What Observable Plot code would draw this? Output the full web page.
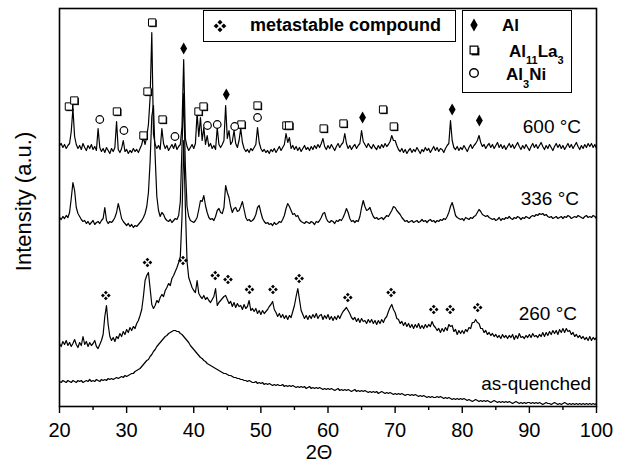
<!DOCTYPE html>
<html>
<head>
<meta charset="utf-8">
<script src="https://cdn.jsdelivr.net/npm/d3@7"></script>
<script src="https://cdn.jsdelivr.net/npm/@observablehq/plot@0.6"></script>
<style>
  html, body { margin: 0; padding: 0; background: #fff; }
  #chart { width: 625px; height: 467px; }
</style>
</head>
<body>
<div id="chart"></div>
<script>
// 2θ sampling grid: 20° to 100° in 0.25° steps
const twoTheta = d3.range(0, 321).map(i => 20 + i * 0.25);

// Intensities (a.u.), one value per grid step
const i600 = [
  261,263,259,262, 258,261,263,275, 298,270,262,258, 261,257,263,259, 256,261,258,262,
  257,260,256,278, 259,255,258,254, 259,256,253,258, 255,259,285,257, 254,258,266,255,
  257,253,256,254, 258,255,257,254, 258,262,269,262, 270,282,309,374, 272,262,258,261,
  257,278,263,258, 261,256,259,262, 258,263,257,260, 262,280,347,268, 260,256,259,262,
  258,263,293,270, 289,266,279,262, 271,260,263,258, 261,257,279,262, 259,262,266,301,
  268,276,262,265, 276,263,259,266, 278,264,258,255, 257,254,258,256, 259,262,279,264,
  258,255,257,254, 256,253,257,255, 258,254,257,260, 256,259,262,273, 264,269,258,261,
  257,260,256,259, 255,258,261,257, 259,256,260,257, 261,258,262,259, 263,268,260,257,
  261,258,262,259, 256,260,263,259, 262,264,273,263, 258,261,257,260, 262,258,261,263,
  276,265,262,259, 263,260,258,262, 259,257,261,258, 262,259,263,260, 262,265,271,266,
  266,261,257,255, 258,254,257,253, 256,258,254,257, 255,259,256,253, 257,255,259,256,
  258,254,257,260, 256,259,255,258, 257,254,258,261, 263,286,266,259, 257,260,256,259,
  257,261,258,255, 259,262,258,261, 263,266,271,264, 260,262,258,261, 263,259,262,258,
  261,264,259,262, 258,261,257,260, 263,259,262,258, 261,264,260,257, 261,258,262,259,
  256,260,263,259, 262,258,261,264, 260,257,261,258, 262,259,256,260, 263,259,262,258,
  261,257,260,263, 259,262,258,261, 264,260,257,261, 258,262,259,263, 260,263,259,262,
  258
];
const i336 = [
  189,187,190,188, 191,189,194,208, 224,216,199,193, 190,187,185,186, 183,185,182,184,
  186,182,184,185, 183,186,188,199, 186,183,185,184, 186,189,194,203, 196,188,185,183,
  181,183,180,182, 179,181,180,182, 184,186,189,193, 200,214,245,290, 301,250,210,196,
  190,194,192,188, 186,185,187,184, 186,188,187,191, 205,260,313,240, 200,190,186,185,
  184,186,189,197, 206,205,211,201, 194,189,187,188, 186,190,196,198, 194,193,199,221,
  214,209,200,194, 198,199,195,196, 200,205,197,189, 186,187,185,186, 188,192,199,201,
  194,188,185,183, 184,182,183,181, 184,182,183,185, 184,187,191,198, 203,200,196,192,
  193,190,191,187, 185,184,183,185, 184,183,185,184, 182,185,184,186, 189,193,194,188,
  185,184,186,185, 183,186,185,187, 186,189,193,198, 194,188,185,186, 184,186,185,190,
  199,206,200,196, 197,199,194,190, 188,189,187,188, 189,187,189,191, 190,193,196,200,
  199,196,194,192, 189,187,185,186, 184,185,186,184, 185,186,184,185, 187,185,186,184,
  186,187,185,186, 184,186,185,187, 186,188,187,190, 194,200,204,198, 191,189,188,187,
  188,186,189,188, 187,189,188,190, 191,194,197,195, 192,191,190,191, 189,188,187,188,
  186,187,189,186, 188,187,189,188, 190,188,187,189, 188,190,189,187, 189,188,190,189,
  188,190,191,190, 192,191,193,192, 193,191,192,190, 189,190,188,189, 190,188,189,190,
  188,190,189,191, 190,188,189,190, 189,191,190,189, 188,190,191,189, 190,189,191,190,
  188
];
const i260 = [
  63,60,65,62, 66,61,64,60, 63,67,62,59, 64,61,70,62, 65,60,64,61,
  63,66,60,58, 62,66,72,90, 101,82,70,66, 69,65,70,68, 73,70,75,72,
  77,74,79,76, 80,78,83,86, 91,97,110,126, 131,134,118,102, 98,101,106,104,
  109,112,110,116, 119,123,121,128, 131,135,139,144, 150,190,266,200, 145,129,124,119,
  116,114,126,113, 110,108,111,107, 109,106,104,107, 110,118,101,104, 106,108,110,111,
  107,103,105,100, 104,99,103,100, 101,97,102,98, 100,106,96,98, 95,98,93,96,
  92,96,93,95, 97,100,102,105, 97,94,90,93, 89,92,88,91, 87,91,89,95,
  101,110,118,107, 96,92,88,91, 87,91,88,92, 89,93,88,91, 92,87,91,88,
  92,87,90,86, 90,87,91,88, 92,95,97,99, 96,93,89,87, 89,85,88,84,
  88,85,86,83, 87,84,87,83, 86,82,86,83, 87,84,88,90, 95,99,102,97,
  94,88,87,83, 85,81,84,80, 83,79,82,78, 82,79,83,78, 81,78,82,79,
  82,80,85,81, 79,76,78,74, 78,75,79,76, 82,80,81,75, 77,72,76,73,
  76,73,77,75, 79,78,84,84, 87,84,83,78, 78,74,76,72, 74,71,73,70,
  72,69,71,68, 72,69,71,68, 71,69,72,67, 71,68,73,69, 70,68,71,69,
  72,69,73,70, 71,69,72,70, 74,70,74,71, 75,72,76,73, 76,72,77,74,
  78,74,78,75, 76,72,74,70, 72,69,71,68, 70,67,69,66, 70,66,69,67,
  69
];
const iQuenched = [
  25,24,26,25, 24,26,25,24, 26,25,24,26, 25,26,24,25, 26,25,27,25,
  26,25,27,26, 25,27,26,27, 26,28,27,28, 27,28,29,28, 29,30,29,31,
  30,31,32,33, 33,35,36,37, 38,40,42,44, 46,47,50,52, 55,57,60,62,
  64,66,68,70, 71,73,74,75, 76,76,75,75, 73,72,70,68, 66,64,61,59,
  57,55,53,51, 49,48,46,45, 43,42,41,40, 39,38,37,36, 35,34,33,33,
  32,31,31,30, 29,29,28,28, 27,27,26,26, 25,26,25,24, 24,25,23,24,
  23,24,22,23, 22,23,22,21, 22,21,22,21, 21,22,20,21, 20,21,20,21,
  20,19,20,19, 20,19,20,18, 19,20,18,19, 18,19,18,19, 18,17,18,17,
  18,17,18,17, 16,17,18,16, 17,16,17,16, 17,16,15,16, 17,15,16,15,
  16,15,16,15, 14,15,14,15, 14,15,13,14, 15,14,13,14, 13,14,13,12,
  13,12,13,12, 13,12,11,12, 12,11,12,11, 12,11,10,11, 10,11,10,9,
  10,9,10,9, 9,10,9,10, 9,8,9,8, 9,8,7,8, 7,8,7,8,
  7,8,7,6, 7,6,5,6, 7,6,5,6, 5,6,5,6, 5,4,5,6,
  5,4,5,4, 5,4,5,4, 5,4,3,4, 5,4,3,4, 3,4,3,4,
  4,3,4,3, 4,3,4,3, 2,3,4,3, 3,2,3,4, 3,2,3,2,
  3,4,3,2, 3,2,3,2, 3,2,3,2, 3,2,3,2, 3,2,3,2,
  3
];

// Phase markers: [2θ, marker height (a.u.)]
const alPeaks = [[38.5, 358], [44.85, 312], [65.15, 289], [78.5, 297], [82.55, 286]];
const al11la3Peaks = [[21.4, 300], [22.2, 306], [28.55, 295], [32.5, 271], [33.1, 315], [33.8, 384],
  [35.35, 287], [40.7, 295], [41.45, 300], [47.1, 282], [49.5, 301], [53.8, 281], [54.2, 281],
  [59.35, 278], [62.3, 283], [68.2, 297], [69.8, 280]];
const al3niPeaks = [[26.0, 287], [29.6, 276], [37.2, 270], [42.05, 281], [43.5, 282], [46.1, 280], [49.5, 289]];
const metastablePeaks = [[26.9, 111], [33.1, 144], [38.4, 146], [43.2, 131], [45.1, 127], [48.3, 117],
  [51.8, 117], [55.7, 128], [62.95, 109], [69.4, 114], [75.75, 97], [78.2, 97], [82.3, 99]];

// Trace labels: [text, right end 2θ, height]
const traceLabels = [["600 °C", 97.7, 280], ["336 °C", 97.4, 208], ["260 °C", 97.1, 93], ["as-quenched", 99.2, 23]];

const majorTicks = [20, 30, 40, 50, 60, 70, 80, 90, 100];
const minorTicks = [25, 35, 45, 55, 65, 75, 85, 95];

const FONT = "'Liberation Sans', Arial, Helvetica, sans-serif";
const lineOpts = () => ({x: (d, i) => twoTheta[i], y: d => d, stroke: "black", strokeWidth: 1.2});

// ❖ drawn as four small filled diamonds around each marker position
const quad = [[0, -2.9], [2.9, 0], [0, 2.9], [-2.9, 0]];
const quadMarks = quad.map(([ox, oy]) =>
  Plot.dot(metastablePeaks, {x: d => d[0], y: d => d[1], symbol: "diamond2", r: 1.75, fill: "black", dx: ox, dy: oy}));

const chart = Plot.plot({
  width: 625,
  height: 467,
  marginLeft: 59,
  marginRight: 29,
  marginTop: 8,
  marginBottom: 61,
  style: {fontFamily: FONT, background: "white", color: "black", overflow: "visible"},
  x: {domain: [20, 100]},
  y: {domain: [0, 398], axis: null},
  marks: [
    Plot.line(iQuenched, lineOpts()),
    Plot.line(i260, lineOpts()),
    Plot.line(i336, lineOpts()),
    Plot.line(i600, lineOpts()),
    Plot.frame({stroke: "black", strokeWidth: 1.6}),
    Plot.axisX({ticks: majorTicks, tickSize: 7, tickPadding: 9, fontSize: 20, label: null, strokeWidth: 1.4}),
    Plot.axisX({ticks: minorTicks, tickSize: 4, text: null, label: null, strokeWidth: 1.4}),
    // phase markers
    Plot.dot(al11la3Peaks, {x: d => d[0], y: d => d[1], symbol: "square", r: 4.1, fill: "black", dx: 1, dy: 1}),
    Plot.dot(al11la3Peaks, {x: d => d[0], y: d => d[1], symbol: "square", r: 4.1, fill: "white", stroke: "black", strokeWidth: 1}),
    Plot.dot(al3niPeaks, {x: d => d[0], y: d => d[1], symbol: "circle", r: 3.8, fill: "white", stroke: "black", strokeWidth: 1.2}),
    Plot.dot(alPeaks, {x: d => d[0], y: d => d[1], symbol: "diamond", r: 3.6, fill: "black"}),
    ...quadMarks,
    // trace labels
    Plot.text(traceLabels, {x: d => d[1], y: d => d[2], text: d => d[0], textAnchor: "end", fontSize: 19, fill: "black"}),
    // axis titles
    Plot.text(["2Θ"], {frameAnchor: "bottom", textAnchor: "middle", dx: -9, dy: 52, fontSize: 20, fill: "black"}),
    Plot.text(["Intensity (a.u.)"], {frameAnchor: "left", textAnchor: "middle", rotate: -90, dx: -36, dy: -6, fontSize: 22, fill: "black"})
  ]
});

document.getElementById("chart").appendChild(chart);

// Legend boxes inside the plot frame
const svg = d3.select(chart.tagName.toLowerCase() === "svg" ? chart : chart.querySelector("svg"));
const lg = svg.append("g").attr("font-family", FONT).attr("fill", "black").attr("text-anchor", "start");

lg.append("rect").attr("x", 203.5).attr("y", 10.5).attr("width", 252).attr("height", 31)
  .attr("fill", "white").attr("stroke", "black").attr("stroke-width", 1);
const diamondSmall = d3.symbol(d3.symbolDiamond2, Math.PI * 2.3 * 2.3)();
for (const [ox, oy] of [[0, -3.8], [3.8, 0], [0, 3.8], [-3.8, 0]]) {
  lg.append("path").attr("transform", `translate(${220 + ox},${26 + oy})`).attr("d", diamondSmall).attr("fill", "black");
}
lg.append("text").attr("x", 250).attr("y", 31).attr("font-size", 18).attr("font-weight", "bold").text("metastable compound");

lg.append("rect").attr("x", 462.5).attr("y", 10.5).attr("width", 109).attr("height", 82)
  .attr("fill", "white").attr("stroke", "black").attr("stroke-width", 1);
lg.append("path").attr("transform", "translate(474,25)").attr("d", d3.symbol(d3.symbolDiamond, Math.PI * 3.9 * 3.9)()).attr("fill", "black");
lg.append("path").attr("transform", "translate(475.5,51.5)").attr("d", d3.symbol(d3.symbolSquare, Math.PI * 4.4 * 4.4)()).attr("fill", "black");
lg.append("path").attr("transform", "translate(474,50)").attr("d", d3.symbol(d3.symbolSquare, Math.PI * 4.4 * 4.4)()).attr("fill", "white").attr("stroke", "black").attr("stroke-width", 1.2);
lg.append("circle").attr("cx", 474).attr("cy", 73).attr("r", 4.3).attr("fill", "white").attr("stroke", "black").attr("stroke-width", 1.4);

lg.append("text").attr("x", 502).attr("y", 31).attr("font-size", 17).attr("font-weight", "bold").text("Al");
const t2 = lg.append("text").attr("x", 509).attr("y", 57).attr("font-size", 17).attr("font-weight", "bold");
t2.append("tspan").text("Al");
t2.append("tspan").attr("dy", 7).attr("font-size", 11).text("11");
t2.append("tspan").attr("dy", -7).text("La");
t2.append("tspan").attr("dy", 7).attr("font-size", 11).text("3");
const t3 = lg.append("text").attr("x", 506).attr("y", 80).attr("font-size", 17).attr("font-weight", "bold");
t3.append("tspan").text("Al");
t3.append("tspan").attr("dy", 8).attr("font-size", 11).text("3");
t3.append("tspan").attr("dy", -8).text("Ni");
</script>
</body>
</html>
